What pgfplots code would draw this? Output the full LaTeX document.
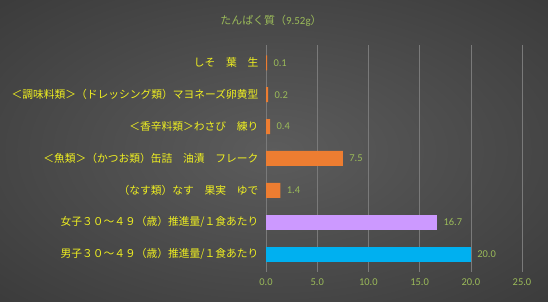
\documentclass[border=0pt]{standalone}
\usepackage{pgfplots}
\pgfplotsset{compat=1.18}
\usepackage{fontspec}
\setmainfont{Noto Sans CJK JP}
\newfontfamily\numfont{Carlito}
\definecolor{bgin}{HTML}{5C5C5C}
\definecolor{bgout}{HTML}{1A1A1A}
\definecolor{lblyellow}{HTML}{F0F020}
\definecolor{numgreen}{HTML}{9BBB59}
\definecolor{barorange}{HTML}{ED7D31}
\definecolor{barpurple}{HTML}{CC99FF}
\definecolor{barblue}{HTML}{00B0F0}
\definecolor{gridgray}{HTML}{7A7A7A}
\definecolor{axisgray}{HTML}{BFBFBF}
\pgfdeclareradialshading{bgshade}{\pgfpoint{0bp}{0bp}}{color(0bp)=(bgin); color(72bp)=(bgout)}
\begin{document}
\begin{tikzpicture}
\useasboundingbox (0,0) rectangle (548bp,302bp);
\shade[shading=bgshade] (0,0) rectangle (548bp,302bp);
\node[text=numgreen, font=\fontsize{11}{13}\selectfont] at (271bp,281bp) {たんぱく質（{\numfont 9.52g}）};
\begin{axis}[
  at={(266bp,30bp)}, anchor=south west, scale only axis,
  width=256bp, height=227bp,
  xbar, bar width=15bp, bar shift=0pt,
  xmin=0, xmax=25, ymin=-0.56, ymax=6.56, y dir=reverse,
  xtick={0,5,...,25}, ytick={0,...,6},
  yticklabels={しそ　葉　生,＜調味料類＞（ドレッシング類）マヨネーズ卵黄型,＜香辛料類＞わさび　練り,＜魚類＞（かつお類）缶詰　油漬　フレーク,（なす類）なす　果実　ゆで,女子３０～４９（歳）推進量/１食あたり,男子３０～４９（歳）推進量/１食あたり},
  axis line style={draw=none},
  major tick length=0pt,
  xmajorgrids, major grid style={gridgray, line width=0.6pt},
  extra x ticks={0}, extra x tick labels={},
  extra x tick style={grid style={axisgray, line width=0.8pt}},
  /pgf/number format/assume math mode=true,
  xticklabel style={text=numgreen, font=\numfont\fontsize{10.5}{12}\selectfont, yshift=-3bp,
    /pgf/number format/.cd, fixed, fixed zerofill, precision=1},
  yticklabel style={text=lblyellow, font=\fontsize{10.8}{12}\selectfont, xshift=-4bp},
  nodes near coords,
  nodes near coords style={text=numgreen, font=\numfont\fontsize{10.5}{12}\selectfont, anchor=west, xshift=3bp,
    /pgf/number format/.cd, fixed, fixed zerofill, precision=1},
]
\addplot[fill=barorange, draw=none] coordinates {(0.1,0) (0.2,1) (0.4,2) (7.5,3) (1.4,4)};
\addplot[fill=barpurple, draw=none] coordinates {(16.7,5)};
\addplot[fill=barblue, draw=none] coordinates {(20.0,6)};
\end{axis}
\end{tikzpicture}
\end{document}
